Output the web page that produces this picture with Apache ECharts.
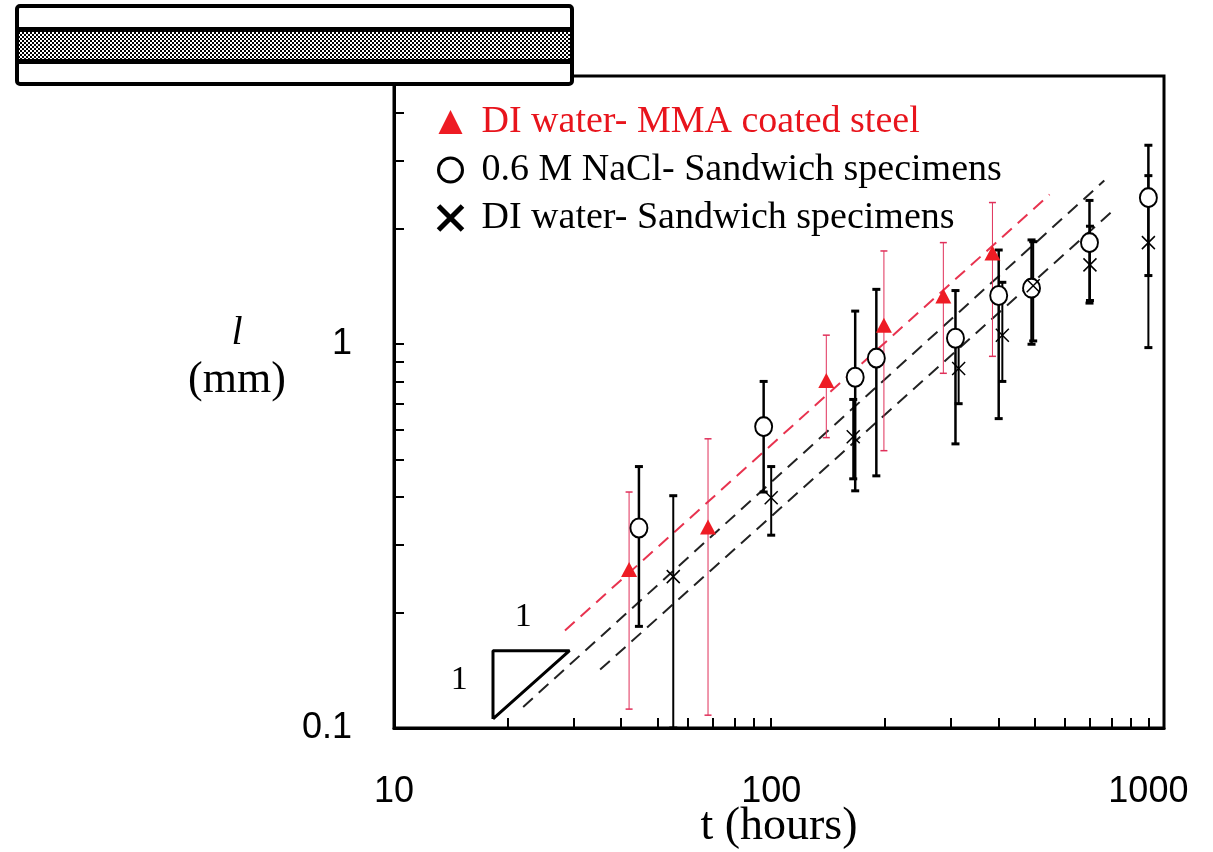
<!DOCTYPE html>
<html>
<head>
<meta charset="utf-8">
<script src="https://cdn.jsdelivr.net/npm/echarts@6/dist/echarts.min.js"></script>
<style>
html,body{margin:0;padding:0;background:#fff;}
#chart{width:1213px;height:852px;}
</style>
</head>
<body>
<div id="chart"></div>
<script>
// ---- data (t in hours, l in mm) ----
const tMMA = [42, 68, 140, 199, 286, 386];
const lMMA = [0.259, 0.334, 0.805, 1.12, 1.336, 1.73];
const lMMALow = [0.112, 0.108, 0.571, 0.528, 0.84, 0.93];
const lMMAHigh = [0.412, 0.567, 1.056, 1.75, 1.84, 2.34];

const tNaCl = [44.6, 95.5, 167, 190, 308, 401, 490, 698, 1000];
const lNaCl = [0.332, 0.61, 0.82, 0.92, 1.037, 1.34, 1.40, 1.84, 2.41];
const lNaClLow = [0.184, 0.412, 0.415, 0.454, 0.55, 0.64, 1.0, 1.28, 1.51];
const lNaClHigh = [0.48, 0.80, 1.22, 1.39, 1.38, 1.76, 1.87, 2.37, 3.3];

const tDI = [55, 100, 165, 314, 410, 495, 700, 1000];
const lDI = [0.248, 0.398, 0.574, 0.865, 1.056, 1.42, 1.61, 1.84];
const lDILow = [0.1, 0.318, 0.446, 0.70, 0.80, 1.02, 1.30, 0.98];
const lDIHigh = [0.403, 0.48, 0.718, 1.05, 1.45, 1.85, 2.03, 2.75];

// fitted trend lines (endpoints as drawn)
const fitMMA = [[28.4, 0.1795], [547, 2.455]];
const fitNaCl = [[22, 0.1135], [764, 2.67]];
const fitDI = [[35.2, 0.142], [822, 2.27]];

// 1:1 slope triangle and its labels
const slopeTri = [[18.3, 0.1056], [18.3, 0.159], [29.2, 0.159], [18.3, 0.1056]];
const slopeLabels = [[22, 0.194], [14.9, 0.1336]];

// axis ticks / labels
const xTicks = [20,30,40,50,60,70,80,90,100,200,300,400,500,600,700,800,900,1000];
const xLabels = [10, 100, 1000];
const yTicks = [0.2,0.3,0.4,0.5,0.6,0.7,0.8,0.9,1,2,3,4];
const yLabels = [0.1, 1];

const legendNames = ['DI water- MMA coated steel', '0.6 M NaCl- Sandwich specimens', 'DI water- Sandwich specimens'];

const XPATH = 'path://M0,0L10,10M10,0L0,10';
const SERIF = 'Liberation Serif';
const SANS = 'Liberation Sans';

function pts(t, l) { return t.map((v, i) => [v, l[i]]); }
function errSeries(t, lo, hi, color, lw, capW, capLw) {
  return {
    type: 'custom', name: 'err', z: 3, silent: true,
    data: t.map((v, i) => [v, lo[i], hi[i]]),
    encode: { x: 0, y: [1, 2] },
    renderItem: function (params, api) {
      const x = api.value(0), a = api.value(1), b = api.value(2);
      const p1 = api.coord([x, b]), p2 = api.coord([x, a]);
      return {
        type: 'group', children: [
          { type: 'line', shape: { x1: p1[0], y1: p1[1], x2: p2[0], y2: p2[1] }, style: { stroke: color, lineWidth: lw } },
          { type: 'line', shape: { x1: p1[0] - capW, y1: p1[1], x2: p1[0] + capW, y2: p1[1] }, style: { stroke: color, lineWidth: capLw } },
          { type: 'line', shape: { x1: p2[0] - capW, y1: p2[1], x2: p2[0] + capW, y2: p2[1] }, style: { stroke: color, lineWidth: capLw } }
        ]
      };
    }
  };
}

const fmt = v => String(+Number(v).toPrecision(6));

// hatch pattern for the specimen sketch
const pc = document.createElement('canvas');
pc.width = 4; pc.height = 4;
const pctx = pc.getContext('2d');
pctx.fillStyle = '#000'; pctx.fillRect(0, 0, 4, 4);
pctx.fillStyle = '#fff'; pctx.fillRect(0, 0, 2, 2); pctx.fillRect(2, 2, 2, 2);

const chart = echarts.init(document.getElementById('chart'), null, { renderer: 'canvas' });
chart.setOption({
  backgroundColor: '#fff',
  animation: false,
  grid: { left: 394, right: 49, top: 76, bottom: 124, outerBoundsMode: 'none', containLabel: false, show: true, borderColor: '#000', borderWidth: 3, backgroundColor: 'transparent' },
  xAxis: {
    type: 'log', logBase: 10, min: 10, max: 1100,
    name: 't (hours)', nameLocation: 'middle', nameGap: 76, nameMoveOverlap: false,
    nameTextStyle: { fontFamily: SERIF, fontSize: 46, color: '#000' },
    axisLine: { show: true, onZero: false, lineStyle: { color: '#000', width: 3 } },
    axisTick: { show: true, inside: true, length: 10, customValues: xTicks, lineStyle: { color: '#000', width: 2 } },
    axisLabel: { show: true, customValues: xLabels, margin: 46, fontFamily: SANS, fontSize: 36, color: '#000', formatter: fmt },
    splitLine: { show: false }, minorTick: { show: false }
  },
  yAxis: {
    type: 'log', logBase: 10, min: 0.1, max: 5,
    name: '{i|l}\n{n|(mm)}', nameLocation: 'middle', nameGap: 157, nameRotate: 0, nameMoveOverlap: false,
    nameTextStyle: {
      align: 'center', verticalAlign: 'middle', padding: [0, 0, 90, 0],
      rich: {
        i: { fontFamily: SERIF, fontStyle: 'italic', fontSize: 40, lineHeight: 46, color: '#000', align: 'center' },
        n: { fontFamily: SERIF, fontSize: 44, lineHeight: 48, color: '#000', align: 'center' }
      }
    },
    axisLine: { show: true, onZero: false, lineStyle: { color: '#000', width: 3 } },
    axisTick: { show: true, inside: true, length: 10, customValues: yTicks, lineStyle: { color: '#000', width: 2 } },
    axisLabel: { show: true, customValues: yLabels, margin: 42, fontFamily: SANS, fontSize: 36, color: '#000', formatter: fmt },
    splitLine: { show: false }, minorTick: { show: false }
  },
  legend: {
    orient: 'vertical', left: 431, top: 98, itemGap: 10, padding: 5,
    itemWidth: 24, itemHeight: 24,
    textStyle: { fontFamily: SERIF, fontSize: 38, color: '#000', padding: [0, 0, 0, 14] },
    data: [
      { name: legendNames[0], icon: 'triangle', itemStyle: { color: '#ee1c24', borderWidth: 0 }, textStyle: { color: '#e8141c' } },
      { name: legendNames[1], icon: 'circle', itemStyle: { color: '#fff', borderColor: '#000', borderWidth: 3 } },
      { name: legendNames[2], icon: XPATH, itemStyle: { color: '#000', borderColor: '#000', borderWidth: 5 } }
    ],
    selectedMode: false
  },
  series: [
    { type: 'line', name: 'fit1', data: fitMMA, symbol: 'none', z: 1, silent: true, lineStyle: { color: '#e8334f', width: 2, type: [13, 8] } },
    { type: 'line', name: 'fit2', data: fitNaCl, symbol: 'none', z: 1, silent: true, lineStyle: { color: '#222', width: 2, type: [13, 8] } },
    { type: 'line', name: 'fit3', data: fitDI, symbol: 'none', z: 1, silent: true, lineStyle: { color: '#222', width: 2, type: [13, 8] } },
    { type: 'line', name: 'slope', data: slopeTri, symbol: 'none', z: 1, silent: true, lineStyle: { color: '#000', width: 3 } },
    {
      type: 'scatter', name: 'slopeLabel', data: slopeLabels, symbolSize: 1, silent: true, z: 1,
      itemStyle: { color: 'rgba(0,0,0,0)', opacity: 1 },
      label: { show: true, position: 'inside', formatter: '1', fontFamily: SERIF, fontSize: 34, color: '#000', textBorderWidth: 0, opacity: 1 }
    },
    errSeries(tMMA, lMMALow, lMMAHigh, '#e0305a', 1, 3.5, 1.5),
    errSeries(tNaCl, lNaClLow, lNaClHigh, '#000', 2.5, 4, 3),
    errSeries(tDI, lDILow, lDIHigh, '#000', 2, 4, 3),
    {
      type: 'scatter', name: legendNames[0], data: pts(tMMA, lMMA), symbol: 'triangle', symbolSize: [16, 15], z: 5,
      itemStyle: { color: '#ee1c24', opacity: 1 }
    },
    {
      type: 'scatter', name: legendNames[1], data: pts(tNaCl, lNaCl), symbol: 'circle', symbolSize: [17, 19], z: 5,
      itemStyle: { color: '#fff', borderColor: '#000', borderWidth: 2, opacity: 1 }
    },
    {
      type: 'scatter', name: legendNames[2], data: pts(tDI, lDI), symbol: XPATH, symbolSize: 13, z: 5,
      itemStyle: { color: '#000', borderColor: '#000', borderWidth: 1.5, opacity: 1 }
    }
  ],
  graphic: [
    { type: 'rect', z: 100, shape: { x: 17, y: 6, width: 555, height: 78, r: 3 }, style: { fill: '#fff', stroke: '#000', lineWidth: 4 } },
    { type: 'rect', z: 101, shape: { x: 19, y: 27, width: 551, height: 37 }, style: { fill: '#000' } },
    { type: 'rect', z: 102, shape: { x: 19, y: 32, width: 551, height: 27 }, style: { fill: { image: pc, repeat: 'repeat' } } }
  ]
});
</script>
</body>
</html>
